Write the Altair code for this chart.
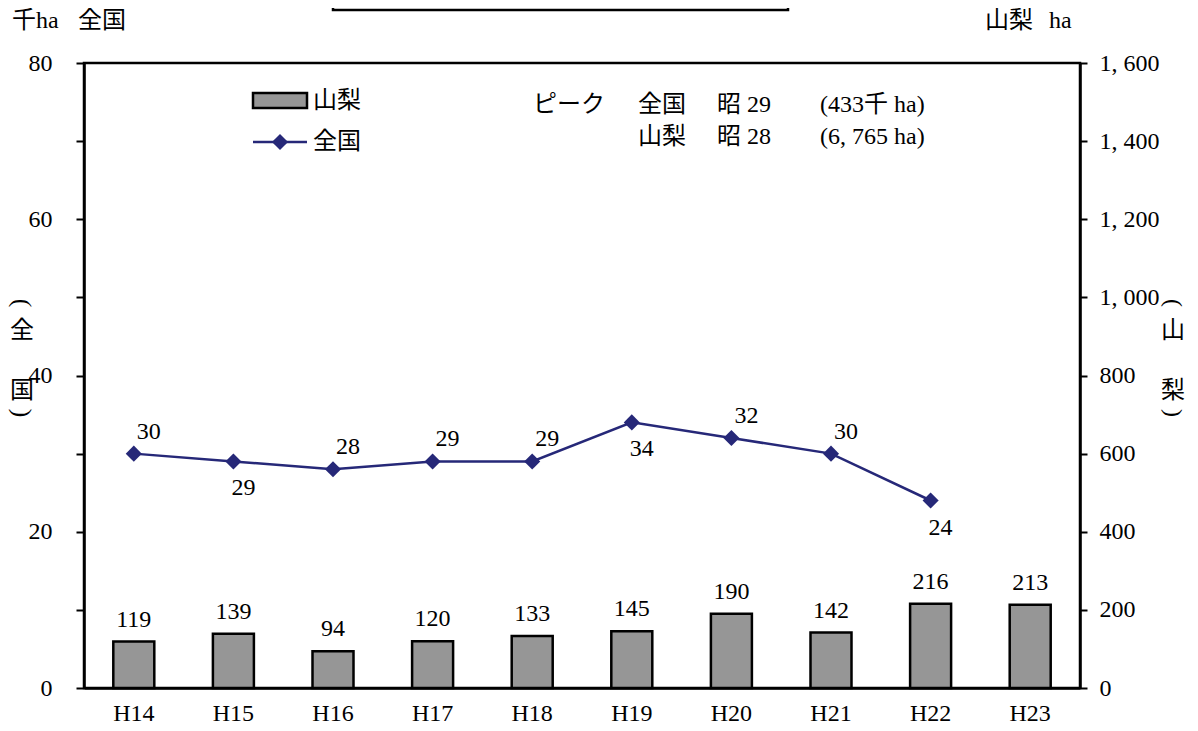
import altair as alt
import pandas as pd

# ---- data ----
years = ["H14", "H15", "H16", "H17", "H18", "H19", "H20", "H21", "H22", "H23"]
yamanashi_ha = [119, 139, 94, 120, 133, 145, 190, 142, 216, 213]
zenkoku_kha = [30, 29, 28, 29, 29, 34, 32, 30, 24, None]
zenkoku_label_side = ["above", "below", "above", "above", "above", "below", "above", "above", "below", None]

df = pd.DataFrame({
    "year": years,
    "yamanashi": yamanashi_ha,
    "zenkoku": zenkoku_kha,
    "side": zenkoku_label_side,
})

FONT = "Liberation Serif, Noto Sans CJK JP"
FS = 24
LINE_COLOR = "#262878"
BAR_FILL = "#969696"

x_enc = alt.X("year:N", sort=years, title=None,
              scale=alt.Scale(paddingInner=0, paddingOuter=0),
              axis=alt.Axis(labelAngle=0, ticks=False, labelPadding=13,
                            labelFontSize=FS, labelFont=FONT, labelColor="black",
                            domainColor="black", domainWidth=2.5))
x_plain = alt.X("year:N", sort=years)

y_right = alt.Y("yamanashi:Q", title=None,
                scale=alt.Scale(domain=[0, 1600], nice=False, zero=True),
                axis=alt.Axis(orient="right", values=list(range(0, 1601, 100)),
                              labelExpr="datum.value % 200 == 0 ? replace(format(datum.value, ','), ',', ', ') : ''",
                              grid=False, tickSize=7, tickWidth=2, tickColor="black",
                              domainColor="black", domainWidth=2.5,
                              labelPadding=12, labelFontSize=FS, labelFont=FONT,
                              labelColor="black", labelAlign="left"))

y_left = alt.Y("zenkoku:Q", title=None,
               scale=alt.Scale(domain=[0, 80], nice=False, zero=True),
               axis=alt.Axis(orient="left", values=list(range(0, 81, 10)),
                             labelExpr="datum.value % 20 == 0 ? datum.label : ''",
                             grid=False, tickSize=8, tickWidth=2, tickColor="black",
                             domainColor="black", domainWidth=2.5,
                             labelPadding=24, labelFontSize=FS, labelFont=FONT,
                             labelColor="black"))

base = alt.Chart(df)

bars = base.mark_bar(size=41, fill=BAR_FILL, stroke="black", strokeWidth=2.5).encode(
    x=x_enc, y=y_right)
bar_labels = base.mark_text(baseline="alphabetic", dy=-15, fontSize=FS, font=FONT,
                            color="black").encode(
    x=x_plain, y=alt.Y("yamanashi:Q"), text=alt.Text("yamanashi:Q"))
bar_group = alt.layer(bars, bar_labels)

line_base = base.transform_filter("isValid(datum.zenkoku)")
line = line_base.mark_line(color=LINE_COLOR, strokeWidth=2.5).encode(
    x=x_plain, y=y_left)
points = line_base.mark_point(shape="diamond", filled=True, size=260, color=LINE_COLOR,
                              opacity=1).encode(x=x_plain, y=alt.Y("zenkoku:Q"))
lab_above = line_base.transform_filter("datum.side == 'above'").mark_text(
    baseline="middle", dx=15, dy=-22, fontSize=FS, font=FONT, color="black").encode(
    x=x_plain, y=alt.Y("zenkoku:Q"), text=alt.Text("zenkoku:Q"))
lab_below = line_base.transform_filter("datum.side == 'below'").mark_text(
    baseline="middle", dx=10, dy=27, fontSize=FS, font=FONT, color="black").encode(
    x=x_plain, y=alt.Y("zenkoku:Q"), text=alt.Text("zenkoku:Q"))
line_group = alt.layer(line, points, lab_above, lab_below)

one = alt.Data(values=[{"a": 1}])


def text_at(txt, x, y, align="left", baseline="middle", size=FS, **kw):
    return alt.Chart(one).mark_text(text=txt, align=align, baseline=baseline,
                                    fontSize=size, font=FONT, color="black", **kw).encode(
        x=alt.value(x), y=alt.value(y))


annotations = [
    # peak note
    text_at("ピーク", 449, 42),
    text_at("全国", 554, 42),
    text_at("昭 29", 633, 42),
    text_at("(433千 ha)", 736, 42),
    text_at("山梨", 554, 74),
    text_at("昭 28", 633, 74),
    text_at("(6, 765 ha)", 736, 74),
    # corner units
    text_at("千ha", -72, -42),
    text_at("全国", -6, -42),
    text_at("山梨", 901, -42),
    text_at("ha", 965, -42),
    # vertical titles
    text_at("(", -62, 240, align="center", angle=90, size=26),
    text_at("全", -62, 268, align="center"),
    text_at("国", -62, 328, align="center"),
    text_at(")", -62, 350, align="center", angle=90, size=26),
    text_at("(", 1089, 240, align="center", angle=90, size=24),
    text_at("山", 1089, 268, align="center"),
    text_at("梨", 1089, 328, align="center"),
    text_at(")", 1089, 350, align="center", angle=90, size=24),
    # legend
    alt.Chart(one).mark_rect(fill=BAR_FILL, stroke="black", strokeWidth=2.5).encode(
        x=alt.value(169), x2=alt.value(223), y=alt.value(30), y2=alt.value(45)),
    text_at("山梨", 229, 38),
    alt.Chart(one).mark_rule(color=LINE_COLOR, strokeWidth=2.5).encode(
        x=alt.value(169), x2=alt.value(223), y=alt.value(79)),
    alt.Chart(one).mark_point(shape="diamond", filled=True, size=260, color=LINE_COLOR,
                              opacity=1).encode(x=alt.value(196), y=alt.value(79)),
    text_at("全国", 229, 79),
    # clipped title box at the top
    alt.Chart(one).mark_rect(fill="white", stroke="black", strokeWidth=2.5).encode(
        x=alt.value(249), x2=alt.value(704), y=alt.value(-80), y2=alt.value(-53)),
]

chart = alt.layer(bar_group, line_group, *annotations).resolve_scale(
    y="independent"
).properties(
    width=996, height=625,
    autosize=alt.AutoSizeParams(type="none"),
    padding={"left": 76, "top": 55, "right": 110, "bottom": 45},
).configure(background="white", font=FONT).configure_axis(
    labelFont=FONT, labelFontSize=FS
).configure_view(
    stroke="black", strokeWidth=2.5
)

chart.save("out.html", embed_options={"renderer": "svg", "actions": False})
